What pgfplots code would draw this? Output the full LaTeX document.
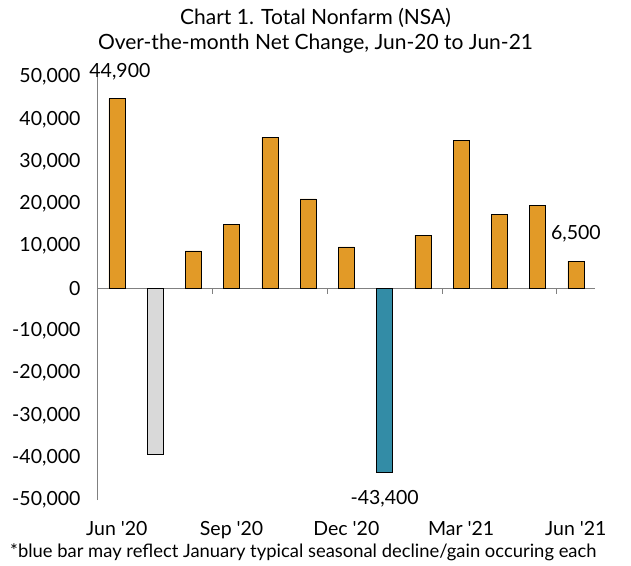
\documentclass[border=0pt]{standalone}
\usepackage{pgfplots}
\pgfplotsset{compat=1.18}
\usepackage{fontspec}
\setmainfont{Lato}
\definecolor{barorange}{HTML}{E29A27}
\definecolor{bargray}{HTML}{D9D9D9}
\definecolor{barteal}{HTML}{338CA6}
\definecolor{axisgray}{HTML}{808080}
\newcommand{\ap}{\textquotesingle}
\begin{document}
\begin{tikzpicture}[x=1pt,y=1pt]
\path[use as bounding box] (0,0) rectangle (631,-565);
\node[align=center, font=\fontsize{21}{25}\selectfont] at (315.5,-31) {Chart 1. Total Nonfarm (NSA)\\Over-the-month Net Change, Jun-20 to Jun-21};
\node[anchor=west, font=\fontsize{18.4}{20}\selectfont, inner sep=0] at (10,-552) {*blue bar may reflect January typical seasonal decline/gain occuring each};
\begin{axis}[
  at={(97pt,-500pt)}, anchor=south west,
  scale only axis, width=498pt, height=423pt,
  xmin=-0.52, xmax=12.5, ymin=-50000, ymax=50000,
  separate axis lines,
  axis y line*=left, axis x line*=bottom,
  x axis line style={draw=none},
  y axis line style={draw=axisgray, line width=0.8pt},
  xtick={0,3,6,9,12},
  xticklabels={{Jun \ap20}, {Sep \ap20}, {Dec \ap20}, {Mar \ap21}, {Jun \ap21}},
  xtick style={draw=none}, ytick style={draw=none},
  ytick={-50000,-40000,-30000,-20000,-10000,0,10000,20000,30000,40000,50000},
  scaled y ticks=false,
  yticklabel={\pgfmathprintnumber[assume math mode=true,1000 sep={,}]{\tick}},
  ticklabel style={font=\fontsize{19.5}{22}\selectfont},
  yticklabel style={xshift=-13pt},
  xticklabel style={yshift=-14pt},
  ybar, bar width=16pt, bar shift=0pt,
  clip=false,
]
\draw[axisgray, line width=0.8pt] (axis cs:-0.52,0) -- (axis cs:12.5,0);
\pgfplotsinvokeforeach{2.5,5.5,8.5,11.5}{
  \draw[axisgray, line width=0.8pt] (axis cs:#1,0) -- ([yshift=-5pt]axis cs:#1,0);
}
\addplot[fill=barorange, draw=black, line width=0.6pt] coordinates {
(0,44900) (2,8900) (3,15200) (4,35700) (5,21200) (6,9850) (8,12600) (9,35000) (10,17600) (11,19700) (12,6500)};
\addplot[fill=bargray, draw=black, line width=0.6pt] coordinates {(1,-39100)};
\addplot[fill=barteal, draw=black, line width=0.6pt] coordinates {(7,-43400)};
\node[font=\fontsize{19.5}{22}\selectfont] at (axis cs:0,44900) [yshift=27pt, xshift=3pt] {44,900};
\node[font=\fontsize{19.5}{22}\selectfont] at (axis cs:12,6500) [yshift=27pt] {6,500};
\node[font=\fontsize{19.5}{22}\selectfont] at (axis cs:7,-43400) [yshift=-27pt] {-43,400};
\end{axis}
\end{tikzpicture}
\end{document}
